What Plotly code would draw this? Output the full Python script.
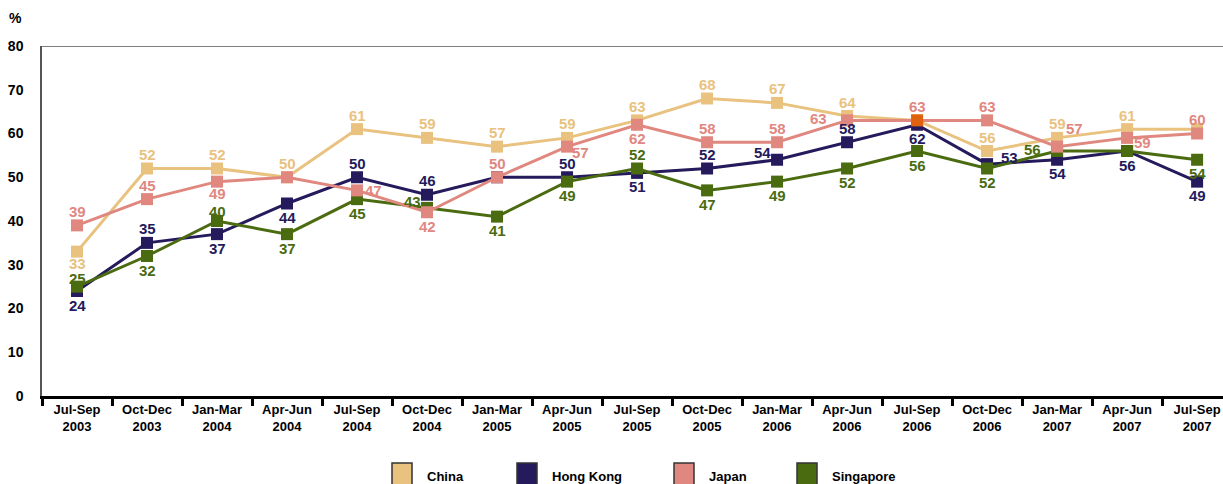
import plotly.graph_objects as go

quarters = [
    "Jul-Sep<br>2003", "Oct-Dec<br>2003", "Jan-Mar<br>2004", "Apr-Jun<br>2004",
    "Jul-Sep<br>2004", "Oct-Dec<br>2004", "Jan-Mar<br>2005", "Apr-Jun<br>2005",
    "Jul-Sep<br>2005", "Oct-Dec<br>2005", "Jan-Mar<br>2006", "Apr-Jun<br>2006",
    "Jul-Sep<br>2006", "Oct-Dec<br>2006", "Jan-Mar<br>2007", "Apr-Jun<br>2007",
    "Jul-Sep<br>2007",
]

china = [33, 52, 52, 50, 61, 59, 57, 59, 63, 68, 67, 64, 63, 56, 59, 61, 61]
hong_kong = [24, 35, 37, 44, 50, 46, 50, 50, 51, 52, 54, 58, 62, 53, 54, 56, 49]
japan = [39, 45, 49, 50, 47, 42, 50, 57, 62, 58, 58, 63, 63, 63, 57, 59, 60]
singapore = [25, 32, 40, 37, 45, 43, 41, 49, 52, 47, 49, 52, 56, 52, 56, 56, 54]

# value-label placement per point: "T" above, "B" below, a (dx, dy) pixel
# offset, or None for no label
T, B = (0, 14), (0, -14)
china_lbl = [(0, -12), T, T, T, T, T, T, T, T, T, T, T, None, T, T, T, None]
hk_lbl = [B, T, B, B, T, T, None, T, B, T, (-15, 7), T, B, (22, 7), B, B, B]
japan_lbl = [T, T, (0, -12), None, (16, 0), B, T, (13, -6), B, T, T, (-29, 2),
             T, T, (17, 18), (15, -5), T]
sing_lbl = [(0, 8), B, (0, 10), B, B, (-15, 6), B, B, T, B, B, B, B, B,
            (-25, 2), None, B]

C_CHINA = "#E8C27E"
C_HK = "#241A5C"
C_JAPAN = "#E0877F"
C_SING = "#4B6B10"
C_OVERLAP = "#E0620E"

FONT = "Liberation Sans, Arial, sans-serif"

fig = go.Figure()


def add_series(values, labels, color, marker_colors=None):
    fig.add_trace(go.Scatter(
        x=list(range(len(values))), y=values,
        mode="lines+markers",
        line=dict(color=color, width=3),
        marker=dict(symbol="square", size=12,
                    color=marker_colors if marker_colors else color),
        cliponaxis=False,
        showlegend=False,
        hoverinfo="skip",
    ))
    for i, (v, lb) in enumerate(zip(values, labels)):
        if lb is None:
            continue
        fig.add_annotation(
            x=i, y=v, xref="x", yref="y", text=str(v), showarrow=False,
            xshift=lb[0], yshift=lb[1],
            font=dict(family=FONT, size=15, color=color, weight="bold"),
        )


add_series(china, china_lbl, C_CHINA)
add_series(hong_kong, hk_lbl, C_HK)
add_series(singapore, sing_lbl, C_SING)
japan_markers = [C_JAPAN] * len(japan)
japan_markers[12] = C_OVERLAP
add_series(japan, japan_lbl, C_JAPAN, japan_markers)

# legend: coloured boxes with names under the plot
legend_items = [("China", C_CHINA, 392), ("Hong Kong", C_HK, 517),
                ("Japan", C_JAPAN, 674), ("Singapore", C_SING, 797)]
L, R, TOP, BOT = 42, 0, 46, 88
W, H = 1223, 484
pw, ph = W - L - R, H - TOP - BOT


def py(pix):
    return (H - BOT - pix) / ph


def px(pix):
    return (pix - L) / pw


for name, col, x in legend_items:
    fig.add_shape(type="rect", xref="paper", yref="paper",
                  x0=px(x), x1=px(x + 20), y0=py(490), y1=py(463),
                  fillcolor=col, line=dict(color="#333333", width=1.5))
    fig.add_annotation(xref="paper", yref="paper",
                       x=px(x + 33), y=py(476),
                       text=name, showarrow=False, xanchor="left",
                       yanchor="middle",
                       font=dict(family=FONT, size=13, color="#000000",
                                 weight="bold"))

# top frame line of the plot area
fig.add_shape(type="line", xref="paper", yref="y", x0=0, x1=1, y0=80, y1=80,
              line=dict(color="#555555", width=1.5))

fig.add_annotation(xref="paper", yref="paper", x=px(15), y=py(18),
                   text="%", showarrow=False, xanchor="center",
                   yanchor="middle",
                   font=dict(family=FONT, size=14, color="#000000",
                             weight="bold"))

fig.update_layout(
    width=W, height=H,
    margin=dict(l=L, r=R, t=TOP, b=BOT, pad=0),
    plot_bgcolor="white", paper_bgcolor="white",
    xaxis=dict(
        tickmode="array",
        tickvals=list(range(len(quarters))),
        ticktext=quarters,
        range=[-0.5, 16.37],
        showgrid=False, zeroline=False,
        showline=True, linecolor="#000000", linewidth=2.5,
        ticks="",
        tickfont=dict(family=FONT, size=13, color="#000000", weight="bold"),
    ),
    xaxis2=dict(
        overlaying="x", range=[-0.5, 16.37], side="bottom",
        tickmode="array",
        tickvals=[i - 0.5 for i in range(len(quarters) + 1)],
        showticklabels=False, showgrid=False, zeroline=False,
        ticks="outside", ticklen=9, tickwidth=2.5, tickcolor="#000000",
    ),
    yaxis=dict(
        range=[0, 80], dtick=10,
        showgrid=False, zeroline=False,
        showline=True, linecolor="#555555", linewidth=1.5,
        ticks="", ticklabelstandoff=14,
        tickfont=dict(family=FONT, size=14, color="#000000", weight="bold"),
    ),
    font=dict(family=FONT),
)

# invisible trace so the boundary tick axis is drawn
fig.add_trace(go.Scatter(x=[0], y=[0], xaxis="x2", mode="markers",
                         marker=dict(opacity=0), showlegend=False,
                         hoverinfo="skip"))

fig.write_html("out.html")
